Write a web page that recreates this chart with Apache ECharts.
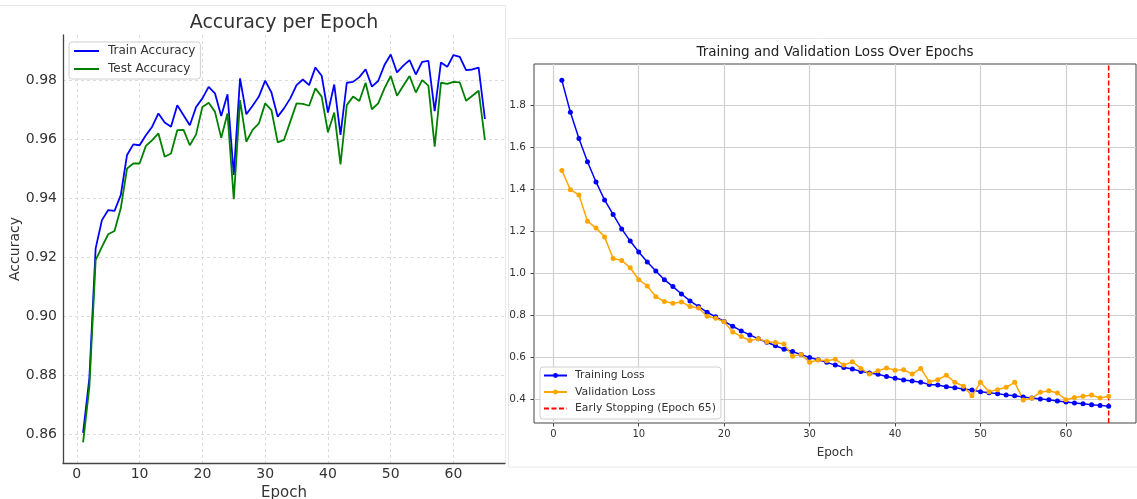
<!DOCTYPE html>
<html>
<head>
<meta charset="utf-8">
<script src="https://cdn.jsdelivr.net/npm/echarts@6/dist/echarts.min.js"></script>
<style>
  html, body { margin: 0; background: #fff; }
  #main { width: 1137px; height: 499px; }
</style>
</head>
<body>
<div id="main"></div>
<script>
// accuracy per epoch (epochs 1..65)
const trainAcc = [
  0.8604, 0.879, 0.923, 0.9326, 0.936, 0.9357, 0.9411, 0.9547, 0.9583, 0.958,
  0.9614, 0.9643, 0.9688, 0.9657, 0.9643, 0.9716, 0.9682, 0.9648, 0.971, 0.9739,
  0.9778, 0.9756, 0.9679, 0.9753, 0.9479, 0.9807, 0.9685, 0.9714, 0.9745, 0.9799,
  0.9759, 0.9677, 0.9705, 0.9739, 0.9784, 0.9803, 0.9784, 0.9844, 0.9816, 0.9691,
  0.9786, 0.9615, 0.9792, 0.9795, 0.9811, 0.9838, 0.9779, 0.9798, 0.9852, 0.9888,
  0.9827, 0.985, 0.9869, 0.982, 0.9863, 0.9866, 0.9696, 0.9861, 0.9846, 0.9886,
  0.988, 0.9835, 0.9837, 0.9843, 0.9669
];
const testAcc = [
  0.8572, 0.876, 0.919, 0.9235, 0.9278, 0.9289, 0.9366, 0.9501, 0.9518, 0.9518,
  0.9578, 0.9597, 0.962, 0.9541, 0.9552, 0.9631, 0.9632, 0.958, 0.9617, 0.971,
  0.9724, 0.9694, 0.9605, 0.9688, 0.9397, 0.9733, 0.9592, 0.9632, 0.9654, 0.9722,
  0.9699, 0.959, 0.9598, 0.966, 0.9722, 0.972, 0.9714, 0.9773, 0.9745, 0.9624,
  0.9691, 0.9515, 0.9716, 0.9745, 0.973, 0.9792, 0.9702, 0.9722, 0.9773, 0.9815,
  0.9748, 0.9782, 0.9815, 0.9759, 0.9801, 0.9782, 0.9575, 0.9792, 0.9788, 0.9795,
  0.9793, 0.9731, 0.9748, 0.9765, 0.9598
];

// loss per epoch
const trainLoss = [
  1.920, 1.768, 1.643, 1.532, 1.436, 1.350, 1.281, 1.212, 1.154, 1.102,
  1.054, 1.011, 0.970, 0.937, 0.902, 0.869, 0.842, 0.815, 0.793, 0.771,
  0.748, 0.726, 0.707, 0.688, 0.672, 0.655, 0.639, 0.628, 0.613, 0.599,
  0.588, 0.576, 0.563, 0.552, 0.544, 0.533, 0.525, 0.519, 0.509, 0.500,
  0.492, 0.487, 0.481, 0.471, 0.468, 0.460, 0.455, 0.449, 0.444, 0.436,
  0.431, 0.427, 0.420, 0.417, 0.411, 0.406, 0.401, 0.398, 0.392, 0.387,
  0.382, 0.379, 0.374, 0.371, 0.367
];
const valLoss = [
  1.491, 1.399, 1.374, 1.249, 1.216, 1.174, 1.071, 1.062, 1.027, 0.970,
  0.940, 0.889, 0.866, 0.858, 0.864, 0.842, 0.835, 0.796, 0.786, 0.769,
  0.721, 0.699, 0.680, 0.688, 0.674, 0.671, 0.663, 0.605, 0.614, 0.577,
  0.587, 0.584, 0.591, 0.563, 0.579, 0.547, 0.520, 0.536, 0.549, 0.539,
  0.541, 0.520, 0.547, 0.484, 0.493, 0.515, 0.481, 0.462, 0.417, 0.481,
  0.436, 0.446, 0.457, 0.481, 0.397, 0.405, 0.433, 0.441, 0.430, 0.398,
  0.409, 0.414, 0.420, 0.406, 0.414
];
const stopEpoch = 65;

const epochTicks = [0, 10, 20, 30, 40, 50, 60];
const accTicks = [0.86, 0.88, 0.90, 0.92, 0.94, 0.96, 0.98];
const lossTicks = [0.4, 0.6, 0.8, 1.0, 1.2, 1.4, 1.6, 1.8];

const accRange = [0.8502, 0.9954];
const lossRange = [0.287, 1.998];

const pairs = arr => arr.map((v, i) => [i + 1, v]);

const FONT = "DejaVu Sans";
const TXT = "#333";
const HIDE = { opacity: 0 };

const chart = echarts.init(document.getElementById("main"));
chart.setOption({
  animation: false,
  textStyle: { fontFamily: FONT, color: TXT },
  graphic: [
    {
      type: "polyline", silent: true,
      shape: { points: [[0, 5.5], [505.5, 5.5], [505.5, 463]] },
      style: { stroke: "#e8e8e8", fill: null, lineWidth: 1 }
    },
    {
      type: "rect", silent: true,
      shape: { x: 508.5, y: 38.5, width: 640, height: 428.5 },
      style: { stroke: "#e8e8e8", fill: null, lineWidth: 1 }
    }
  ],
  title: [
    {
      text: "Accuracy per Epoch",
      left: 284, top: 14, padding: 0, textAlign: "center",
      textStyle: { fontFamily: FONT, fontSize: 19, fontWeight: "normal", color: TXT }
    },
    {
      text: "Training and Validation Loss Over Epochs",
      left: 835, top: 45, padding: 0, textAlign: "center",
      textStyle: { fontFamily: FONT, fontSize: 13.5, fontWeight: "normal", color: "#222" }
    }
  ],
  legend: [
    {
      data: [
        { name: "Train Accuracy", itemStyle: HIDE },
        { name: "Test Accuracy", itemStyle: HIDE }
      ],
      orient: "vertical",
      left: 69, top: 42,
      itemWidth: 25, itemHeight: 12, itemGap: 6,
      padding: [3, 5, 4, 4],
      backgroundColor: "rgba(255,255,255,0.85)",
      borderColor: "#d0d0d0", borderWidth: 1, borderRadius: 3,
      textStyle: { fontFamily: FONT, fontSize: 12, color: TXT, padding: [0, 0, 0, 4] }
    },
    {
      data: [
        "Training Loss",
        "Validation Loss",
        { name: "Early Stopping (Epoch 65)", itemStyle: HIDE }
      ],
      orient: "vertical",
      left: 540, top: 367,
      itemWidth: 23, itemHeight: 6, itemGap: 4.5,
      padding: [2.5, 5, 4.5, 3],
      backgroundColor: "rgba(255,255,255,0.85)",
      borderColor: "#d0d0d0", borderWidth: 1, borderRadius: 3,
      textStyle: { fontFamily: FONT, fontSize: 10.8, lineHeight: 12, color: TXT, padding: [0, 0, 0, 3] }
    }
  ],
  grid: [
    { left: 63, top: 35, width: 442, height: 428, outerBoundsMode: "none" },
    { left: 534, top: 64, width: 602, height: 359, outerBoundsMode: "none",
      show: true, borderColor: "#444", borderWidth: 1 }
  ],
  xAxis: [
    {
      type: "value", gridIndex: 0,
      min: -2.2, max: 68.2,
      name: "Epoch", nameLocation: "middle", nameGap: 21,
      nameTextStyle: { fontFamily: FONT, fontSize: 15, color: TXT },
      axisLine: { show: true, onZero: false, lineStyle: { color: "#444", width: 1.3 } },
      axisTick: { show: false, customValues: epochTicks },
      axisLabel: { customValues: epochTicks, fontSize: 14, color: TXT, margin: 4 },
      splitLine: { show: true, lineStyle: { type: [3, 3], color: "#d4d4d4", width: 0.8 } }
    },
    {
      type: "value", gridIndex: 1,
      min: -2.26, max: 68.2,
      name: "Epoch", nameLocation: "middle", nameGap: 24,
      nameTextStyle: { fontFamily: FONT, fontSize: 12, color: TXT },
      axisLine: { show: false, onZero: false },
      axisTick: { show: true, length: 3.5, customValues: epochTicks, lineStyle: { color: "#444" } },
      axisLabel: { customValues: epochTicks, fontSize: 10, color: TXT, margin: 6 },
      splitLine: { show: true, lineStyle: { color: "#d0d0d0", width: 1.2 } }
    }
  ],
  yAxis: [
    {
      type: "value", gridIndex: 0,
      min: accRange[0], max: accRange[1],
      name: "Accuracy", nameLocation: "middle", nameGap: 41,
      nameTextStyle: { fontFamily: FONT, fontSize: 14, color: TXT },
      axisLine: { show: true, onZero: false, lineStyle: { color: "#444", width: 1.3 } },
      axisTick: { show: false, customValues: accTicks },
      axisLabel: { customValues: accTicks, fontSize: 14, color: TXT, margin: 6,
        formatter: v => v.toFixed(2) },
      splitLine: { show: true, lineStyle: { type: [3, 3], color: "#d4d4d4", width: 0.8 } }
    },
    {
      type: "value", gridIndex: 1,
      min: lossRange[0], max: lossRange[1],
      axisLine: { show: false, onZero: false },
      axisTick: { show: true, length: 3.5, customValues: lossTicks, lineStyle: { color: "#444" } },
      axisLabel: { customValues: lossTicks, fontSize: 10.5, color: TXT, margin: 8,
        formatter: v => v.toFixed(1) },
      splitLine: { show: true, lineStyle: { color: "#d0d0d0", width: 1.2 } }
    }
  ],
  series: [
    {
      name: "Train Accuracy", type: "line", xAxisIndex: 0, yAxisIndex: 0,
      data: pairs(trainAcc), symbol: "none",
      itemStyle: { color: "#0000ff" },
      lineStyle: { color: "#0000ff", width: 1.8 }
    },
    {
      name: "Test Accuracy", type: "line", xAxisIndex: 0, yAxisIndex: 0,
      data: pairs(testAcc), symbol: "none",
      itemStyle: { color: "#008000" },
      lineStyle: { color: "#008000", width: 1.8 }
    },
    {
      name: "Training Loss", type: "line", xAxisIndex: 1, yAxisIndex: 1,
      data: pairs(trainLoss), symbol: "circle", symbolSize: 5, showSymbol: true,
      itemStyle: { color: "#0000ff" },
      lineStyle: { color: "#0000ff", width: 1.5 }
    },
    {
      name: "Validation Loss", type: "line", xAxisIndex: 1, yAxisIndex: 1,
      data: pairs(valLoss), symbol: "circle", symbolSize: 5, showSymbol: true,
      itemStyle: { color: "#ffa500" },
      lineStyle: { color: "#ffa500", width: 1.5 }
    },
    {
      name: "Early Stopping (Epoch 65)", type: "line", xAxisIndex: 1, yAxisIndex: 1,
      data: [[stopEpoch, lossRange[0]], [stopEpoch, lossRange[1]]],
      symbol: "none",
      itemStyle: { color: "#ff0000" },
      lineStyle: { color: "#ff0000", width: 1.5, type: [5, 2.5] }
    }
  ]
});
</script>
</body>
</html>
